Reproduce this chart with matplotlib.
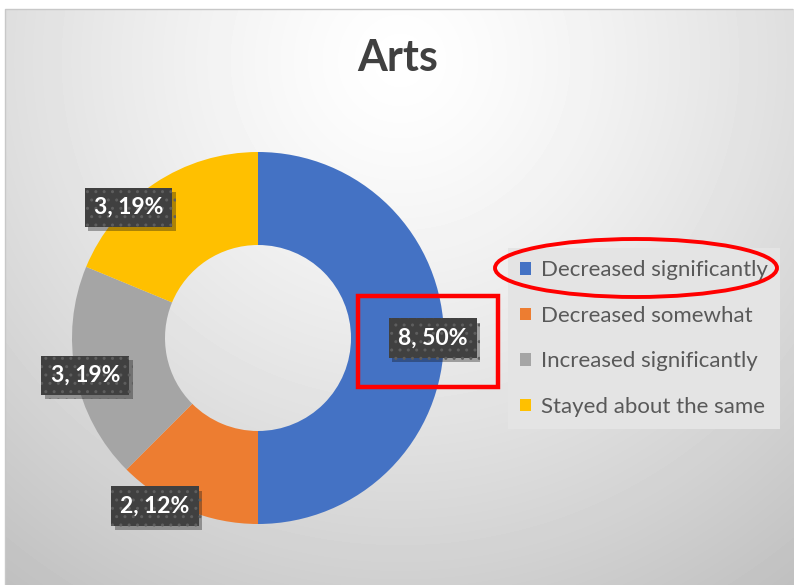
import numpy as np
import matplotlib.pyplot as plt
import matplotlib.patheffects as pe
from matplotlib.patches import Ellipse, Rectangle, Patch

plt.rcParams['font.family'] = ['Lato', 'DejaVu Sans']

title = "Arts"
categories = ["Decreased significantly", "Decreased somewhat",
              "Increased significantly", "Stayed about the same"]
counts = [8, 2, 3, 3]
percents = [50, 12, 19, 19]   # as printed on the chart
colors = ["#4472C4", "#ED7D31", "#A5A5A5", "#FFC000"]

# label placement: (angle nudge in degrees, radius) relative to wedge middle
label_place = [(0, 0.94), (-9, 1.06), (1, 0.95), (11, 0.99)]

W, H = 794, 585
fig = plt.figure(figsize=(W / 100, H / 100), dpi=100)

def fx(x):
    return x / W

def fy(y):
    return 1 - y / H

# gray radial background of the chart area
bg = fig.add_axes([0, 0, 1, 1], zorder=-10)
bg.set_axis_off()
yy, xx = np.mgrid[0:H, 0:W]
d = np.hypot(xx - 400, yy - 60)
shade = 255 - 64 * (d / 660) ** 1.3
img = np.clip(shade, 0, 255) / 255
img[:, :5] = 1
img[:9, :] = 1
bg.imshow(img, cmap='gray', vmin=0, vmax=1, extent=[0, W, H, 0],
          aspect='auto', interpolation='bilinear')
bg.plot([5, 5, 792], [H, 9, 9], color='#c8c8c8', lw=1)
bg.set_xlim(0, W)
bg.set_ylim(H, 0)

# donut
cx, cy, R = 258, 338, 186
ax = fig.add_axes([fx(cx - R), fy(cy + R), 2 * R / W, 2 * R / H])
wedges, _ = ax.pie(counts, colors=colors, startangle=90, counterclock=False,
                   radius=1, wedgeprops=dict(width=0.5, edgecolor='none'))
ax.set_xlim(-1, 1)
ax.set_ylim(-1, 1)
ax.set_axis_off()

for w, n, p, (da, r) in zip(wedges, counts, percents, label_place):
    mid = np.deg2rad((w.theta1 + w.theta2) / 2 + da)
    x, y = r * np.cos(mid), r * np.sin(mid)
    t = ax.text(x, y, f"{n}, {p}%", ha='center', va='center', fontsize=16.5,
                fontweight='bold', color='white',
                bbox=dict(boxstyle='square,pad=0.4', fc='#404040', ec='#5e5e5e',
                          lw=0, hatch='..'))
    t.get_bbox_patch().set_path_effects(
        [pe.SimplePatchShadow(offset=(2.5, -3), alpha=0.35), pe.Normal()])

# title
fig.text(fx(398), fy(58), title, ha='center', va='center', fontsize=31,
         fontweight='bold', color='#404040')

# legend
handles = [Patch(facecolor=c, edgecolor='none') for c in colors]
leg = fig.legend(handles, categories, loc='upper left',
                 bbox_to_anchor=(fx(508), fy(248)), borderaxespad=0,
                 fontsize=16, labelcolor='#595959', frameon=True,
                 fancybox=False, facecolor='#e4e4e4', edgecolor='none',
                 framealpha=1, handlelength=0.5, handleheight=0.5,
                 handletextpad=0.45, labelspacing=1.15, borderpad=0.55)

# red highlight marks
ov = fig.add_axes([0, 0, 1, 1], zorder=10)
ov.set_axis_off()
ov.set_xlim(0, W)
ov.set_ylim(H, 0)
ov.patch.set_alpha(0)
ov.add_patch(Ellipse((636, 268), 282, 58, fill=False, ec='#ff0000', lw=2.8))
ov.add_patch(Rectangle((358, 296), 140, 91, fill=False, ec='#ff0000', lw=3.2))

fig.savefig("out.png", dpi=100)
